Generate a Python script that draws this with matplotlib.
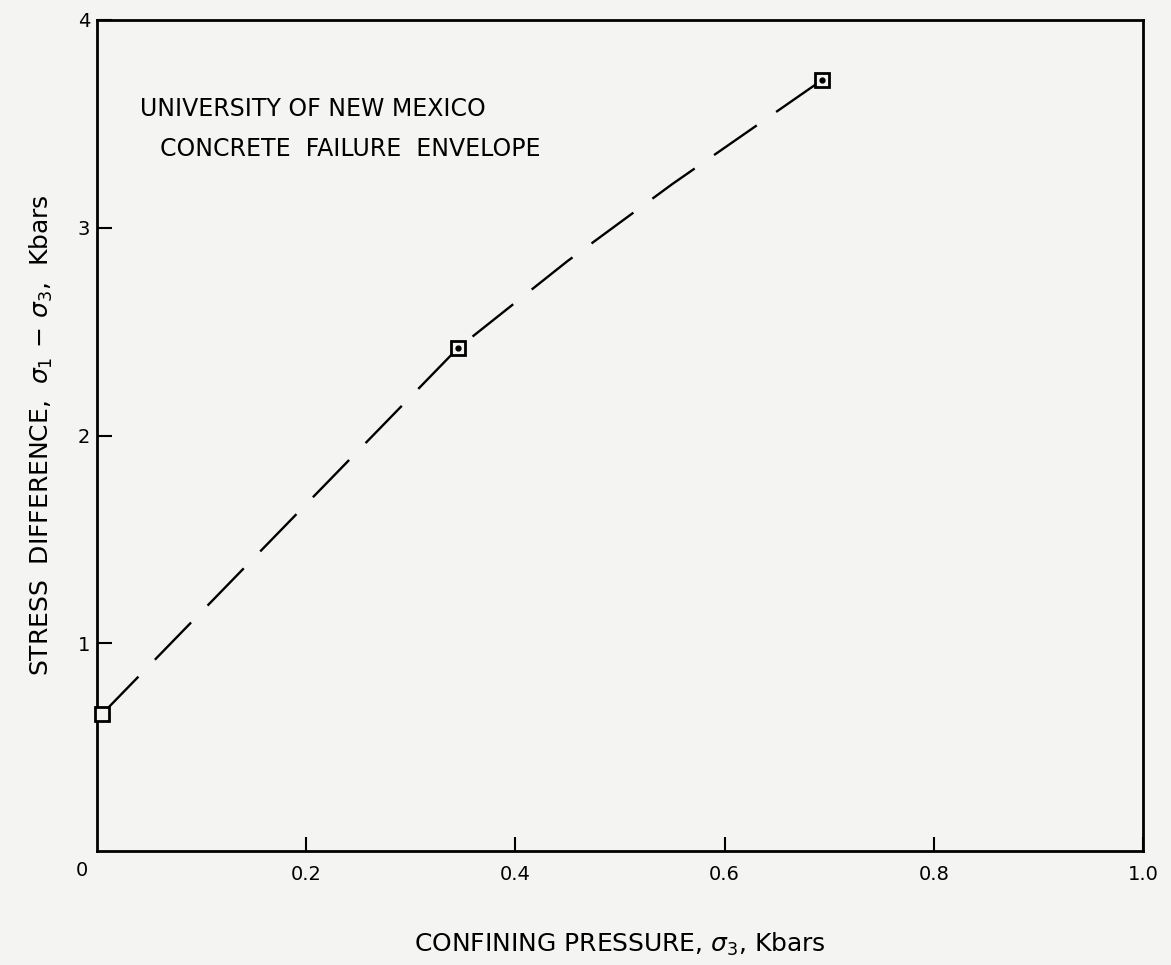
import numpy as np
import matplotlib
matplotlib.use("Agg")
import matplotlib.pyplot as plt

# test points (confining pressure, stress difference), kbars
sigma3 = [0.005, 0.345, 0.693]
stress_diff = [0.66, 2.42, 3.71]

# dashed failure envelope
env_x = [0.005, 0.345, 0.45, 0.55, 0.693]
env_y = [0.66, 2.42, 2.84, 3.21, 3.71]

xticks = [0.2, 0.4, 0.6, 0.8, 1.0]
xtick_labels = ["0.2", "0.4", "0.6", "0.8", "1.0"]
yticks = [1, 2, 3, 4]
ytick_labels = ["1", "2", "3", "4"]

bg = "#f4f4f2"
plt.rcParams['font.family'] = ['DejaVu Sans']
plt.rcParams['mathtext.fontset'] = 'dejavusans'

fig = plt.figure(figsize=(11.71, 9.65), dpi=100, facecolor=bg)
ax = fig.add_axes([0.0828, 0.1181, 0.8932, 0.8612])
ax.set_facecolor(bg)

line, = ax.plot(env_x, env_y, color="black", lw=1.7, clip_on=False)
line.set_dashes((22, 10))
ax.plot(sigma3, stress_diff, ls="none", marker="s", ms=10, mfc=bg, mec="black",
        mew=2, clip_on=False, zorder=3)
ax.plot(sigma3[1:], stress_diff[1:], ls="none", marker="o", ms=3.5, color="black",
        clip_on=False, zorder=4)

ax.set_xlim(0, 1.0)
ax.set_ylim(0, 4)
ax.set_xticks(xticks)
ax.set_xticklabels(xtick_labels)
ax.set_yticks(yticks)
ax.set_yticklabels(ytick_labels)
ax.tick_params(axis="x", direction="in", length=10, width=1.5, labelsize=14, pad=10)
ax.tick_params(axis="y", direction="in", length=11, width=1.5, labelsize=14, pad=5)
for s in ax.spines.values():
    s.set_linewidth(2)

ax.annotate("0", xy=(0, 0), xytext=(-11, -14), textcoords="offset points",
            ha="center", va="center", fontsize=14, annotation_clip=False)

ax.text(0.041, 3.57, "UNIVERSITY OF NEW MEXICO", fontsize=17, va="center", ha="left")
ax.text(0.06, 3.38, "CONCRETE  FAILURE  ENVELOPE", fontsize=17, va="center", ha="left")

ax.set_xlabel(r"CONFINING PRESSURE, $\sigma_3$, Kbars", fontsize=18, labelpad=34)
ax.set_ylabel(r"STRESS  DIFFERENCE,  $\sigma_1 \, - \, \sigma_3$,  Kbars", fontsize=18,
              labelpad=16)

fig.savefig("out.png", dpi=100, facecolor=bg)
